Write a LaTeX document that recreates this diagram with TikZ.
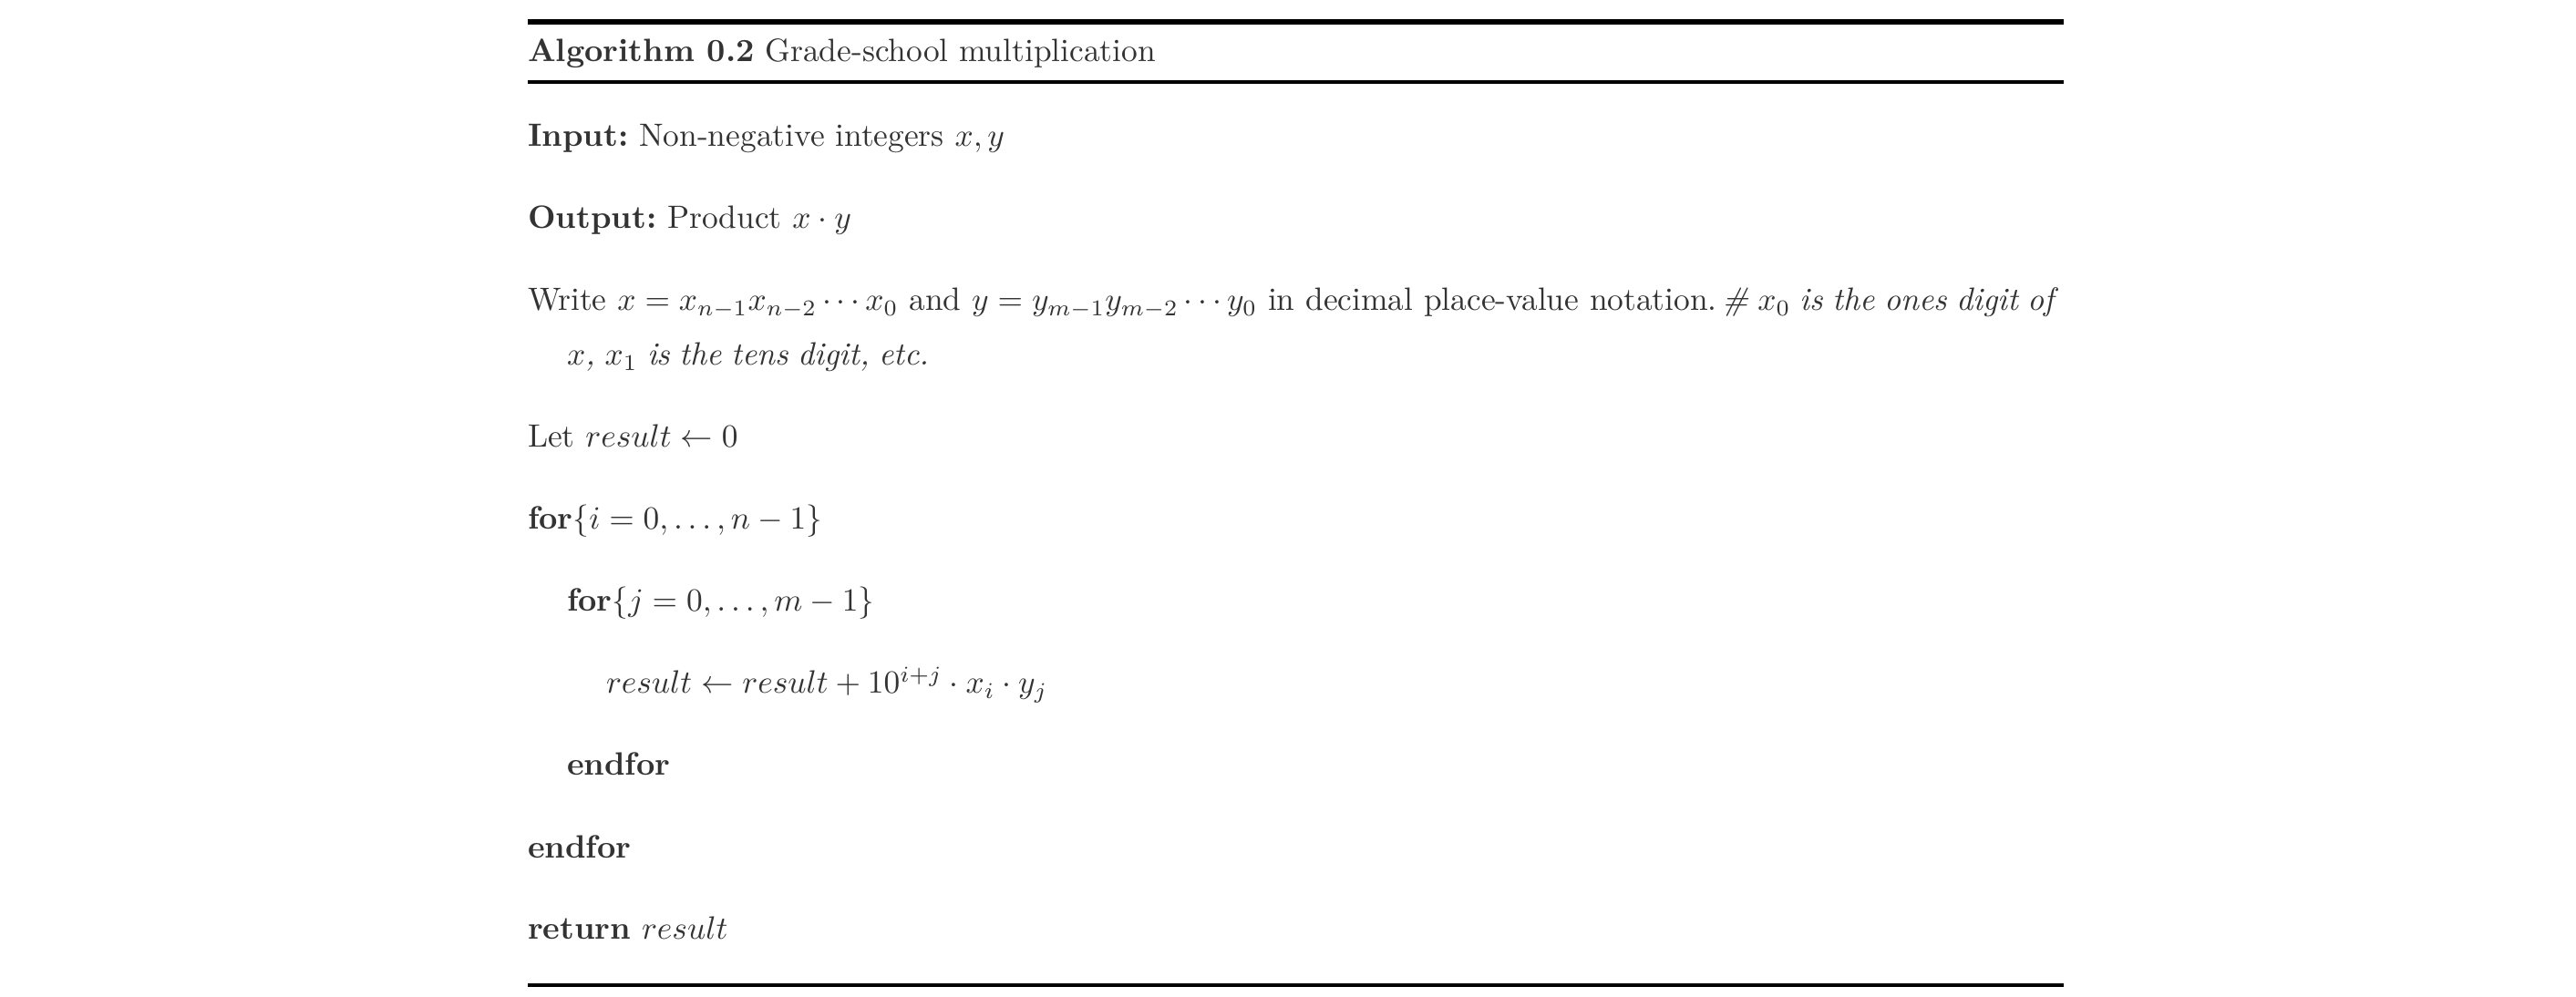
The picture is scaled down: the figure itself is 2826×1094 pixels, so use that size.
\documentclass[tikz,border=0pt]{standalone}
\usepackage{xcolor}
\definecolor{txt}{HTML}{333333}
\newcommand{\tightit}[1]{{\itshape\spaceskip=2.95pt\relax #1}}
\begin{document}
\frenchspacing
\begin{tikzpicture}[x=0.2825pt,y=-0.2825pt,
  line/.style={anchor=base west,inner sep=0pt,outer sep=0pt,text=txt,font=\fontsize{10pt}{12pt}\selectfont\frenchspacing},
  rulethick/.style={line width=1.6pt,black},
  rulemid/.style={line width=1.05pt,black},
  rulebot/.style={line width=1.2pt,black}]
\useasboundingbox (0,0) rectangle (2826,1094);
% rules
\coordinate (tl) at (579,23.8);
\coordinate (tr) at (2264,23.8);
\coordinate (ml) at (579,89.8);
\coordinate (mr) at (2264,89.8);
\coordinate (bl) at (579,1081);
\coordinate (br) at (2264,1081);
\draw[rulethick] (tl) -- (tr);
\draw[rulemid] (ml) -- (mr);
\draw[rulebot] (bl) -- (br);
% text lines
\node[line] (title) at (579,68) {\textbf{Algorithm 0.2} Grade-school multiplication};
\node[line] (input) at (579,161) {\textbf{Input:} Non-negative integers $x, y$};
\node[line] (output) at (579,251) {\textbf{Output:} Product $x \cdot y$};
\node[line] (write1) at (579,341) {Write $x = x_{n-1}x_{n-2}\cdots x_0$ and $y = y_{m-1}y_{m-2}\cdots y_0$ in decimal place-value notation.};
\node[line] (write1b) at (1889,341) {\tightit{\# $x_0$ is the ones digit of}};
\node[line] (write2) at (622,401) {\tightit{$x$, $x_1$ is the tens digit, etc.}};
\node[line] (let) at (579,491) {Let $result \leftarrow 0$};
\node[line] (fori) at (579,581) {\textbf{for}$\{i = 0, \ldots, n-1\}$};
\node[line] (forj) at (622,671) {\textbf{for}$\{j = 0, \ldots, m-1\}$};
\node[line] (body) at (665,761) {$result \leftarrow result + 10^{i+j} \cdot x_i \cdot y_j$};
\node[line] (endj) at (622,851) {\textbf{endfor}};
\node[line] (endi) at (579,941) {\textbf{endfor}};
\node[line] (ret) at (579,1031) {\textbf{return} $result$};
\end{tikzpicture}
\end{document}
